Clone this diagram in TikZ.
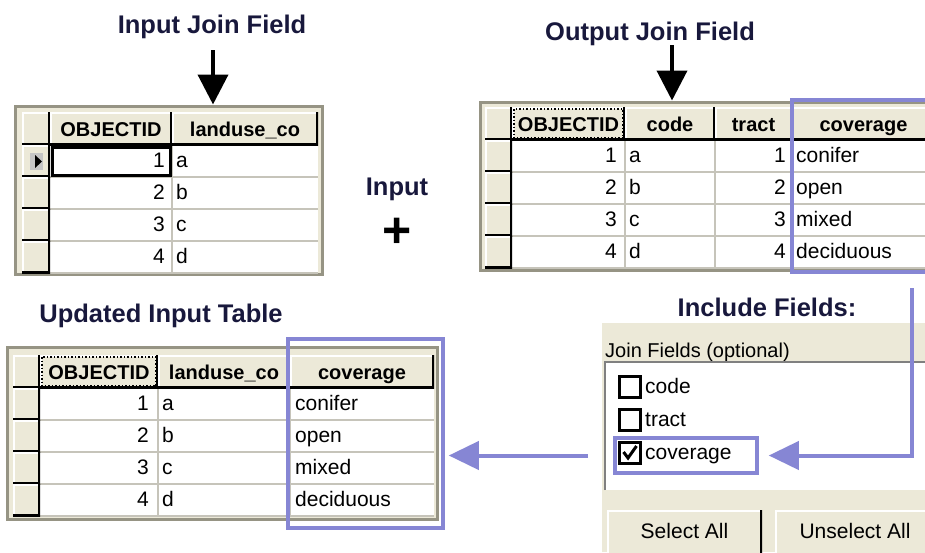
\documentclass[tikz,border=0pt]{standalone}
\usepackage{fontspec}
\setmainfont{Liberation Sans}
\usetikzlibrary{arrows.meta}
\definecolor{xpbeige}{RGB}{236,233,216}
\definecolor{xpgrid}{RGB}{198,196,186}
\definecolor{xpframe}{RGB}{150,148,132}
\definecolor{joinpurple}{RGB}{134,134,212}
\definecolor{headink}{RGB}{24,24,60}
\tikzset{
  heading/.style={font=\bfseries\fontsize{25.5}{26}\selectfont,text=headink,inner sep=0pt,anchor=base},
  colhead/.style={font=\bfseries\fontsize{20}{20}\selectfont,text height=15,text depth=0},
  celltext/.style={font=\fontsize{21}{21}\selectfont,inner sep=0pt},
  numcell/.style={celltext,anchor=base east},
  txtcell/.style={celltext,anchor=base west},
  gridframe/.style={fill=xpbeige,draw=xpframe,line width=3pt,inner sep=0pt},
  xpbox/.style={fill=xpbeige,inner sep=0pt,
    path picture={
      \draw[white,line width=3pt] (path picture bounding box.south west) -- (path picture bounding box.north west) -- (path picture bounding box.north east);
      \draw[black,line width=3.5pt] (path picture bounding box.north east) -- (path picture bounding box.south east) -- (path picture bounding box.south west);}},
  button/.style={xpbox,celltext,text height=15,text depth=9},
  joinbox/.style={draw=joinpurple,line width=3.5pt,inner sep=0pt},
  chkbox/.style={draw=black,fill=white,line width=3pt,minimum size=21,inner sep=0pt},
  fieldarrow/.style={line width=4pt,-{Triangle[width=30pt,length=30pt]}},
  joinarrow/.style={joinpurple,line width=4pt,-{Triangle[width=28pt,length=30pt]}}
}
\begin{document}
\begin{tikzpicture}[x=1pt,y=-1pt]
\clip (0,0) rectangle (925,552);
\fill[white] (0,0) rectangle (925,552);

% input table
\node[heading] (intitle) at (212,33) {Input Join Field};
\node[gridframe,minimum width=307,minimum height=168] (tab1) at (168.5,190) {};
\fill[white] (50,145) rectangle (318,273);
\foreach \y in {177,209,241,273} \draw[xpgrid,line width=1.2pt] (50,\y) -- (318,\y);
\draw[xpgrid,line width=1.2pt] (172,145) -- (172,273);
\node[xpbox,minimum width=28,minimum height=33] (t1corner) at (36,128.5) {};
\node[xpbox,colhead,minimum width=122,minimum height=33] (t1id) at (111,128.5) {OBJECTID};
\node[xpbox,colhead,minimum width=146,minimum height=33] (t1use) at (245,128.5) {landuse\_co};
\foreach \i/\t [evaluate=\i as \yc using 129+32*\i] in {1/a,2/b,3/c,4/d}{
  \node[xpbox,minimum width=28,minimum height=32] (t1sel\i) at (36,\yc) {};
  \node[numcell] (t1num\i) at (165,\yc+6.5) {\i};
  \node[txtcell] (t1code\i) at (176,\yc+6.5) {\t};
}
\fill[gray!45] (30,153) rectangle (43,170);
\fill (35,155) -- (42,161.5) -- (35,168) -- cycle;
\draw[line width=3pt] (52,147) rectangle (170,175); % current cell

% output table
\node[heading] (outtitle) at (650,40) {Output Join Field};
\node[gridframe,minimum width=455,minimum height=168] (tab2) at (707.5,186) {};
\fill[white] (512,140) rectangle (935,268);
\foreach \y in {172,204,236,268} \draw[xpgrid,line width=1.2pt] (512,\y) -- (935,\y);
\foreach \x in {625,715,792} \draw[xpgrid,line width=1.2pt] (\x,140) -- (\x,268);
\node[xpbox,minimum width=27,minimum height=33] (t2corner) at (498.5,123.5) {};
\node[xpbox,colhead,minimum width=113,minimum height=33] (t2id) at (568.5,123.5) {OBJECTID};
\node[xpbox,colhead,minimum width=90,minimum height=33] (t2code) at (670,123.5) {code};
\node[xpbox,colhead,minimum width=77,minimum height=33] (t2tract) at (753.5,123.5) {tract};
\node[xpbox,colhead,minimum width=143,minimum height=33] (t2cov) at (863.5,123.5) {coverage};
\draw[dotted,line width=1.5pt] (514,109) rectangle (623,138);
\foreach \i/\t/\c [evaluate=\i as \yc using 124+32*\i] in {1/a/conifer,2/b/open,3/c/mixed,4/d/deciduous}{
  \node[xpbox,minimum width=27,minimum height=32] (t2sel\i) at (498.5,\yc) {};
  \node[numcell] (t2num\i) at (617,\yc+6.5) {\i};
  \node[txtcell] (t2code\i) at (629,\yc+6.5) {\t};
  \node[numcell] (t2tract\i) at (786,\yc+6.5) {\i};
  \node[txtcell] (t2cov\i) at (796,\yc+6.5) {\c};
}
\node[joinbox,minimum width=150,minimum height=172] (cov2) at (867,186) {};

% the plus sign
\node[heading] (inputlbl) at (397,195) {Input};
\node[font=\bfseries\fontsize{50}{50}\selectfont,inner sep=0pt] (plus) at (397,233) {+};

% updated table
\node[heading] (newtitle) at (161,322) {Updated Input Table};
\node[gridframe,minimum width=430,minimum height=172] (tab3) at (222,433) {};
\fill[white] (40,388) rectangle (434,516);
\foreach \y in {420,452,484,516} \draw[xpgrid,line width=1.2pt] (40,\y) -- (434,\y);
\foreach \x in {158,290} \draw[xpgrid,line width=1.2pt] (\x,388) -- (\x,516);
\node[xpbox,minimum width=27,minimum height=33] (t3corner) at (26.5,371.5) {};
\node[xpbox,colhead,minimum width=118,minimum height=33] (t3id) at (99,371.5) {OBJECTID};
\node[xpbox,colhead,minimum width=132,minimum height=33] (t3use) at (224,371.5) {landuse\_co};
\node[xpbox,colhead,minimum width=144,minimum height=33] (t3cov) at (362,371.5) {coverage};
\draw[dotted,line width=1.5pt] (42,357) rectangle (156,386);
\foreach \i/\t/\c [evaluate=\i as \yc using 372+32*\i] in {1/a/conifer,2/b/open,3/c/mixed,4/d/deciduous}{
  \node[xpbox,minimum width=27,minimum height=32] (t3sel\i) at (26.5,\yc) {};
  \node[numcell] (t3num\i) at (149,\yc+6.5) {\i};
  \node[txtcell] (t3use\i) at (162,\yc+6.5) {\t};
  \node[txtcell] (t3cov\i) at (295,\yc+6.5) {\c};
}
\node[joinbox,minimum width=155,minimum height=189] (cov3) at (365.5,433.5) {};

% join field picker
\node[heading] (picktitle) at (767,316) {Include Fields:};
\node[fill=xpbeige,minimum width=330,minimum height=229,inner sep=0pt] (panel) at (767,437.5) {};
\node[txtcell,font=\fontsize{20}{20}\selectfont] (pickhint) at (605,357) {Join Fields (optional)};
\node[fill=white,minimum width=330,minimum height=128,inner sep=0pt] (fieldlist) at (770,426) {};
\draw[gray,line width=2pt] (fieldlist.south west) -- (fieldlist.north west) -- (fieldlist.north east);
\foreach \f/\y in {code/387,tract/420,coverage/453}{
  \node[chkbox] (chk\f) at (630,\y) {};
  \node[txtcell] (lbl\f) at (645,\y+6.5) {\f};
}
\draw[line width=3pt] (623.5,452) -- (628,458) -- (636.5,446);
\node[joinbox,minimum width=142,minimum height=35] (covpick) at (686,455.5) {};
\node[button,minimum width=155,minimum height=50] (selall) at (684.5,535) {Select All};
\node[button,minimum width=160,minimum height=50] (unselall) at (855,535) {Unselect All};

% arrows
\coordinate (inpoint) at (213,50);
\draw[fieldarrow] (inpoint) -- (inpoint |- tab1.north);
\coordinate (outpoint) at (672,45);
\draw[fieldarrow] (outpoint) -- (outpoint |- tab2.north);
\coordinate (covdrop) at (912,288);
\draw[joinarrow] (covdrop) |- ([xshift=10pt]covpick.east);
\coordinate (covleft) at (588,455.5);
\draw[joinarrow] (covleft) -- ([xshift=4pt]cov3.east |- covleft);
\end{tikzpicture}
\end{document}
